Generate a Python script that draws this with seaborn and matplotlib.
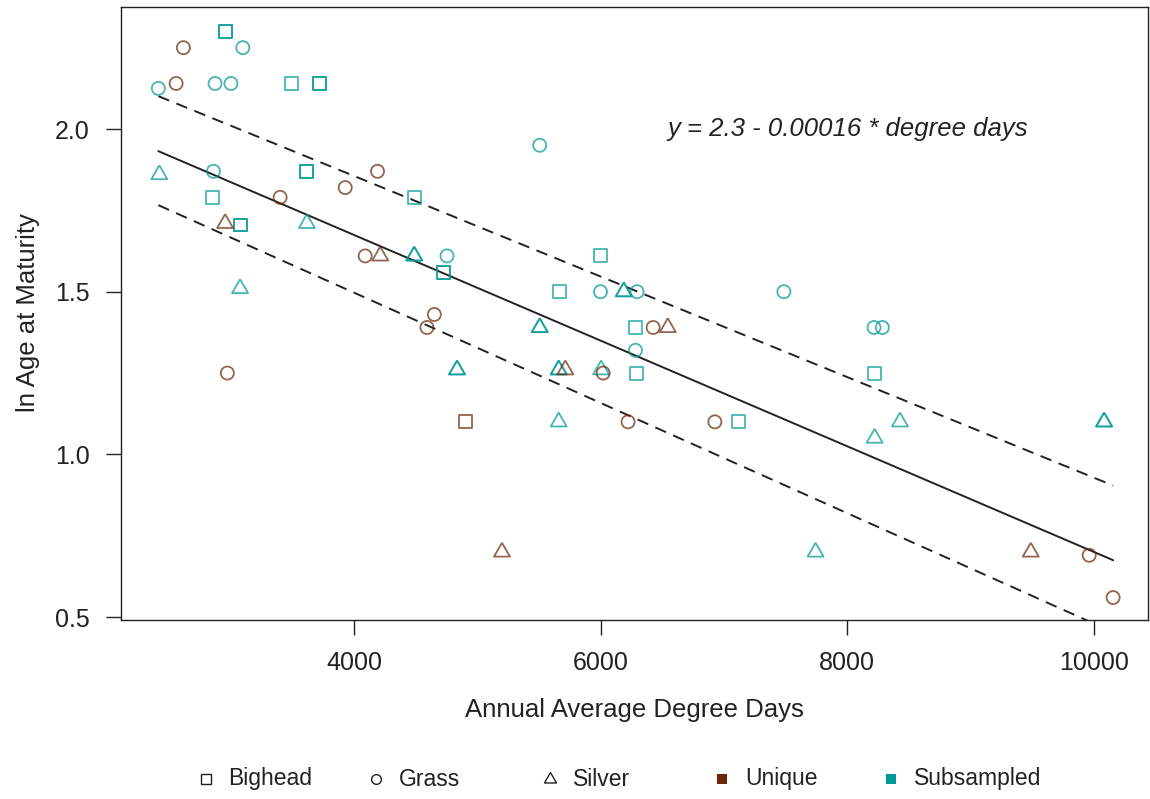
import numpy as np
import pandas as pd
import matplotlib
matplotlib.use("Agg")
import matplotlib.pyplot as plt
import seaborn as sns
from matplotlib.lines import Line2D
from matplotlib.markers import MarkerStyle

# ---------------- data ----------------
# Subsampled (teal) points
bighead_sub_x = [2958, 2958, 3494, 3716, 3716, 3616, 3616, 2853, 3074, 3074,
                 4490, 4725, 4725, 6000, 5665, 6282, 6290, 7121, 8222]
bighead_sub_y = [2.30, 2.30, 2.14, 2.14, 2.14, 1.87, 1.87, 1.79, 1.705, 1.705,
                 1.79, 1.56, 1.56, 1.61, 1.50, 1.39, 1.25, 1.10, 1.25]
grass_sub_x = [3096, 2411, 2871, 3000, 2858, 5505, 4753, 5998, 6295, 6282,
               7486, 8217, 8285]
grass_sub_y = [2.25, 2.125, 2.14, 2.14, 1.87, 1.95, 1.61, 1.50, 1.50, 1.32,
               1.50, 1.39, 1.39]
silver_sub_x = [2419, 3616, 3074, 4487, 4487, 5505, 5505, 4834, 4834, 6187,
                6187, 5659, 5659, 6003, 5659, 8428, 8222, 7743, 10084, 10084]
silver_sub_y = [1.86, 1.71, 1.51, 1.61, 1.61, 1.39, 1.39, 1.26, 1.26, 1.50,
                1.50, 1.26, 1.26, 1.26, 1.10, 1.10, 1.05, 0.70, 1.10, 1.10]
# Unique (brown) points
bighead_uni_x = [4901]
bighead_uni_y = [1.10]
grass_uni_x = [2614, 2555, 3399, 3927, 4189, 4089, 4650, 4590, 2971, 6425,
               6020, 6222, 6926, 9963, 10157]
grass_uni_y = [2.25, 2.14, 1.79, 1.82, 1.87, 1.61, 1.43, 1.39, 1.25, 1.39,
               1.25, 1.10, 1.10, 0.69, 0.56]
silver_uni_x = [2953, 4211, 5713, 6544, 5199, 9489]
silver_uni_y = [1.71, 1.61, 1.26, 1.39, 0.70, 0.70]

# regression line and its bounds (intercept, slope)
fit_line = (2.3233, -0.0001623)
upper_line = (2.4735, -0.0001545)
lower_line = (2.1744, -0.0001694)
equation_text = "y = 2.3 - 0.00016 * degree days"

species_names = ["Bighead", "Grass", "Silver"]
source_names = ["Unique", "Subsampled"]
x_ticks = [4000, 6000, 8000, 10000]
y_ticks = [0.5, 1.0, 1.5, 2.0]

x_label = "Annual Average Degree Days"
y_label = "ln Age at Maturity"

# ---------------- build table ----------------
groups = [
    ("Bighead", "Subsampled", bighead_sub_x, bighead_sub_y),
    ("Grass", "Subsampled", grass_sub_x, grass_sub_y),
    ("Silver", "Subsampled", silver_sub_x, silver_sub_y),
    ("Bighead", "Unique", bighead_uni_x, bighead_uni_y),
    ("Grass", "Unique", grass_uni_x, grass_uni_y),
    ("Silver", "Unique", silver_uni_x, silver_uni_y),
]
rows = []
for sp, src, xs, ys in groups:
    for x, y in zip(xs, ys):
        rows.append({"degree_days": x, "ln_age": y, "species": sp, "source": src})
df = pd.DataFrame(rows)

# ---------------- style ----------------
sns.set_theme(style="white")
plt.rcParams["font.family"] = ["Liberation Sans", "DejaVu Sans"]

ink = "#222222"
src_base = {"Unique": (0.42, 0.16, 0.04), "Subsampled": (0.0, 0.60, 0.59)}
pt_alpha = 0.72

tri = MarkerStyle([(0, 1.555), (1.347, -0.778), (-1.347, -0.778), (0, 1.555)])
marker_of = {"Bighead": "s", "Grass": "o", "Silver": tri}
size_of = {"Bighead": 9.3 ** 2, "Grass": 9.4 ** 2, "Silver": 13.3 ** 2}

fig = plt.figure(figsize=(11.5, 7.99), dpi=100)
L, R, T, B = 121, 1148, 7, 620
W, H = 1150, 799
ax = fig.add_axes([L / W, 1 - B / H, (R - L) / W, (B - T) / H])

for (sp, src), sub in df.groupby(["species", "source"], sort=False):
    col = src_base[src] + (pt_alpha,)
    sns.scatterplot(data=sub, x="degree_days", y="ln_age", ax=ax,
                    marker=marker_of[sp], s=size_of[sp],
                    facecolor="none", edgecolor=col, linewidth=1.3,
                    legend=False, zorder=3)

x_lo, x_hi = df["degree_days"].min(), df["degree_days"].max()
line_x = np.array([x_lo, x_hi], dtype=float)
for (a, b), ls in [(fit_line, "-"), (upper_line, (0, (6, 4))), (lower_line, (0, (6, 4)))]:
    sns.lineplot(x=line_x, y=a + b * line_x, ax=ax, color=ink, linewidth=1.4,
                 linestyle=ls, zorder=2)

ax.text(8007, 2.0, equation_text, style="italic", fontsize=18.5, color=ink,
        ha="center", va="center")

ax.set_xlim(2108, 10440)
ax.set_ylim(0.491, 2.375)
ax.set_xticks(x_ticks)
ax.set_xticklabels([str(v) for v in x_ticks])
ax.set_yticks(y_ticks)
ax.set_yticklabels([f"{v:.1f}" for v in y_ticks])
ax.set_xlabel("")
ax.set_ylabel("")
ax.tick_params(axis="both", which="major", direction="out", length=10.5, width=1.0,
               color=ink, labelcolor=ink, labelsize=18,
               bottom=True, left=True, top=False, right=False)
ax.tick_params(axis="x", pad=12)
ax.tick_params(axis="y", pad=12)
for s in ax.spines.values():
    s.set_visible(True)
    s.set_color(ink)
    s.set_linewidth(1.0)

fig.text(634.5 / W, 1 - 710 / H, x_label, ha="center", va="center",
         fontsize=18.5, color=ink)
fig.text(28 / W, 1 - 313 / H, y_label, ha="center", va="center",
         rotation=90, fontsize=18.5, color=ink)

# ---------------- legend (drawn as in the reference, one row) ----------------
leg_y = 1 - 779 / H
leg_items = [
    ("Bighead", 206, 228, dict(marker="s", ms=7, mfc="none", mec=ink, mew=1.0)),
    ("Grass", 376, 399, dict(marker="o", ms=7, mfc="none", mec=ink, mew=1.0)),
    ("Silver", 550, 573, dict(marker=tri, ms=10, mfc="none", mec=ink, mew=1.0)),
    ("Unique", 722, 745, dict(marker="s", ms=7, mfc=src_base["Unique"], mec=src_base["Unique"], mew=0)),
    ("Subsampled", 891, 914, dict(marker="s", ms=7, mfc=src_base["Subsampled"], mec=src_base["Subsampled"], mew=0)),
]
for label, mx, tx, mk in leg_items:
    fig.add_artist(Line2D([mx / W], [leg_y], transform=fig.transFigure,
                          linestyle="none", **mk))
    fig.text(tx / W, leg_y, label, ha="left", va="center", fontsize=16.5, color=ink)

fig.savefig("out.png", dpi=100)
